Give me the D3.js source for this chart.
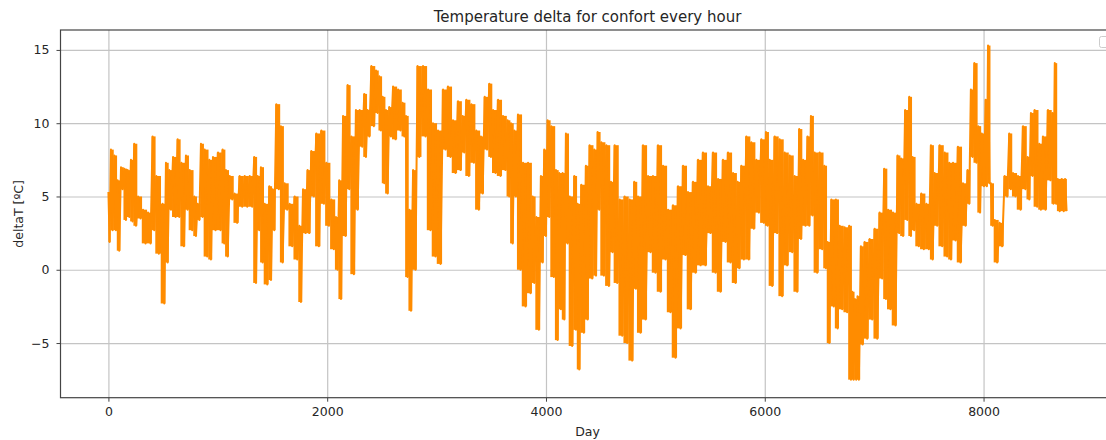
<!DOCTYPE html>
<html lang="en">

<head>
    <meta charset="UTF-8">
    <meta name="viewport" content="width=device-width, initial-scale=1.0">
    <title>Temperature delta for confort every hour</title>
    <script src="https://d3js.org/d3.v7.min.js"></script>

    <style>
        body {
            margin: 0;
            background: #fff;
        }

        svg text {
            font-family: "DejaVu Sans", sans-serif;
            fill: #262626;
        }

        .axis .domain {
            display: none;
        }

        .axis line {
            stroke: #444;
        }

        .axis text {
            font-size: 12.5px;
        }

        .gridlines line {
            stroke: #c4c4c4;
            stroke-width: 1.2px;
        }
    </style>
</head>

<body>
    <svg id="chart" width="1106" height="440"></svg>

    <script>
        // hour of the year and deltaT, in pairs: high then low of each short stretch
        const hours = [
            0, 11, 23, 38, 54, 69, 84, 99, 115, 130, 145, 160, 176, 191, 206, 221, 236, 252, 271, 294, 316, 339, 362, 385, 404, 419, 438, 461, 495, 511, 526, 541, 556, 572, 591, 614, 633, 648, 667, 690, 709, 724, 743, 766, 785, 800, 815, 831, 846, 861, 880, 903, 922, 937, 956, 979, 1002, 1025, 1044, 1059, 1074, 1090, 1109, 1132, 1154, 1177, 1200, 1223, 1246, 1269, 1292, 1314, 1333, 1349, 1364, 1379,
            1394, 1410, 1429, 1452, 1471, 1486, 1501, 1516, 1535, 1558, 1577, 1592, 1611, 1634, 1657, 1680, 1703, 1726, 1745, 1760, 1779, 1802, 1821, 1836, 1855, 1878, 1901, 1924, 1947, 1970, 1992, 2015, 2038, 2061, 2080, 2095, 2110, 2126, 2145, 2168, 2187, 2202, 2221, 2244, 2263, 2278, 2297, 2320, 2339, 2354, 2369, 2385, 2404, 2427, 2446, 2461, 2476, 2491, 2507, 2522, 2537, 2552, 2567, 2583, 2602, 2625, 2648, 2670, 2689, 2705, 2720, 2735, 2750, 2766, 2785, 2807, 2826, 2842,
            2876, 2899, 2922, 2944, 2967, 2990, 3013, 3036, 3059, 3082, 3104, 3127, 3150, 3173, 3196, 3219, 3238, 3253, 3272, 3295, 3318, 3341, 3363, 3386, 3405, 3421, 3440, 3462, 3482, 3497, 3516, 3539, 3562, 3584, 3607, 3630, 3649, 3664, 3680, 3695, 3710, 3725, 3744, 3767, 3790, 3813, 3836, 3859, 3878, 3893, 3912, 3935, 3954, 3969, 3984, 3999, 4015, 4030, 4049, 4072, 4091, 4106, 4121, 4137, 4152, 4167, 4182, 4198, 4217, 4239, 4259, 4274, 4289, 4304,
            4323, 4346, 4365, 4380, 4399, 4422, 4441, 4457, 4472, 4487, 4506, 4529, 4552, 4575, 4594, 4609, 4628, 4651, 4674, 4697, 4719, 4742, 4765, 4788, 4807, 4822, 4841, 4864, 4887, 4910, 4933, 4956, 4978, 5001, 5024, 5047, 5070, 5093, 5116, 5138, 5161, 5184, 5207, 5230, 5253, 5275, 5298, 5321, 5344, 5367, 5390, 5413, 5435, 5458, 5481, 5504, 5527, 5550, 5573, 5595, 5618, 5641, 5664, 5687, 5710, 5733, 5752, 5767,
            5786, 5809, 5832, 5854, 5877, 5900, 5923, 5946, 5969, 5992, 6011, 6026, 6045, 6068, 6091, 6113, 6136, 6159, 6182, 6205, 6228, 6251, 6273, 6296, 6315, 6331, 6350, 6372, 6391, 6407, 6422, 6437, 6456, 6479, 6502, 6525, 6544, 6559, 6574, 6590, 6609, 6631, 6650, 6666, 6685, 6708, 6730, 6753, 6772, 6788, 6800, 6812, 6824, 6836, 6848, 6860, 6879, 6894, 6913, 6936, 6959, 6982, 7005, 7028, 7050, 7073, 7092, 7108, 7127, 7149, 7172, 7195, 7214, 7229,
            7246, 7264, 7283, 7303, 7321, 7336, 7351, 7366, 7386, 7408, 7431, 7454, 7477, 7500, 7519, 7534, 7553, 7576, 7599, 7622, 7645, 7667, 7686, 7702, 7721, 7744, 7766, 7789, 7812, 7835, 7854, 7869, 7884, 7900, 7916, 7935, 7951, 7967, 7984, 8004, 8019, 8030, 8041, 8054, 8067, 8083, 8102, 8124, 8147, 8170, 8193, 8216, 8235, 8250, 8269, 8292, 8315, 8338, 8361, 8383, 8402, 8418, 8433, 8448, 8467, 8490, 8509, 8524, 8543, 8566, 8589, 8612, 8629, 8639, 8651, 8663, 8678, 8696, 8715, 8733, 8745, 8759
        ];
        const deltaT = [
            5.3, 1.9, 8.2, 2.7, 7.8, 2.7, 6.1, 1.3, 7.0, 5.5, 6.9, 3.4, 6.8, 3.6, 7.5, 3.3, 8.6, 3.0, 5.0, 3.5, 4.1, 1.8, 3.9, 1.8, 9.1, 2.7, 6.4, 1.1, 4.5, -2.3, 7.3, 0.5, 6.8, 4.1, 7.7, 3.6, 8.9, 3.6, 7.3, 1.6, 7.8, 4.1, 6.8, 2.7, 5.0, 2.3, 4.5, 3.4, 8.6, 3.6, 8.2, 0.9, 7.5, 0.7, 7.7, 2.7, 8.0, 2.7, 8.2, 1.8, 6.8, 0.9, 6.4, 4.8, 5.2, 3.2, 6.4, 4.3, 6.4, 4.3, 6.4, 4.3, 7.7, -0.9, 6.4, 2.7,
            7.0, 0.5, 4.5, -1.0, 5.7, -0.7, 5.5, 2.7, 11.3, 5.5, 9.8, 0.5, 5.9, 4.1, 4.5, 1.6, 5.0, 0.7, 3.0, -2.2, 5.5, 2.5, 6.8, 2.5, 8.1, 5.0, 9.3, 1.6, 9.5, 4.5, 7.3, 3.0, 4.8, 1.4, 3.6, 0.0, 6.1, -2.0, 10.5, 2.3, 12.6, 5.5, 9.1, -0.3, 10.9, 4.1, 10.9, 8.4, 12.0, 7.7, 10.9, 9.1, 13.9, 9.8, 13.6, 10.7, 13.2, 9.5, 11.8, 5.9, 10.9, 5.2, 11.1, 9.1, 12.5, 8.9, 12.3, 9.5, 11.4, 9.1, 10.5, -0.5, 4.1, -2.8, 6.8, 0.0, 13.9, 7.7,
            13.9, 9.1, 12.3, 2.7, 10.0, 0.9, 9.5, 0.4, 12.3, 8.2, 12.5, 7.7, 10.2, 6.6, 11.5, 6.8, 10.5, 8.0, 11.6, 6.4, 11.3, 7.3, 9.5, 4.1, 9.1, 5.2, 11.8, 8.2, 12.7, 7.7, 10.9, 6.6, 11.6, 6.4, 10.5, 6.8, 10.2, 5.0, 10.0, 1.8, 9.5, 5.0, 10.6, 0.0, 7.3, -2.5, 7.3, -1.6, 5.0, -0.9, 3.6, -4.1, 6.4, 0.5, 8.2, 2.3, 10.2, 3.6, 9.8, -0.5, 6.8, -4.8, 6.6, -2.7, 6.6, -3.4, 9.3, 1.8, 5.0, -5.2, 6.4, -4.1, 4.5, -6.8,
            5.8, -4.3, 7.1, -3.4, 8.5, -0.6, 8.2, -0.4, 9.4, 4.1, 8.7, -0.4, 8.5, -1.1, 6.0, 1.2, 8.5, -0.9, 4.8, -4.5, 5.0, -5.0, 4.8, -6.2, 6.0, -1.3, 5.0, -4.3, 8.5, -3.4, 6.4, 1.2, 6.4, -0.2, 8.5, -1.5, 7.1, 0.7, 4.1, -2.9, 4.4, -6.0, 5.7, -4.0, 7.1, 1.0, 5.3, -2.7, 6.0, -0.2, 7.5, 0.3, 8.0, 0.3, 5.7, 2.5, 8.0, -0.2, 6.2, -1.5, 7.5, 1.9, 8.0, 0.5, 6.6, -0.9, 6.0, 0.1,
            7.1, 0.7, 9.1, 0.7, 8.7, 2.8, 7.5, 3.9, 8.9, 3.2, 9.4, 3.0, 7.5, -1.1, 9.1, 2.5, 8.9, -1.8, 8.0, 0.3, 7.8, 1.2, 6.4, -1.5, 9.6, 2.1, 7.5, 3.0, 9.1, 3.0, 10.5, 3.7, 8.0, -0.2, 8.0, 1.4, 7.1, 0.1, 1.9, -5.0, 4.8, -2.5, 4.8, -4.0, 3.0, -2.7, 2.9, -2.9, 3.0, -7.5, -1.5, -7.5, -2.0, -7.5, -1.8, -7.5, 1.6, -5.1, 1.9, -4.7, 2.1, -3.4, 2.8, -4.7, 3.9, -0.6, 6.9, -2.0, 4.1, -2.7, 3.9, -3.8, 7.8, 2.5,
            7.6, 2.3, 10.9, 3.4, 11.8, 2.3, 7.7, 2.7, 4.5, 1.6, 5.2, 1.4, 4.5, 1.4, 8.5, 0.7, 6.6, 3.0, 8.5, 1.6, 8.0, 0.9, 7.3, 0.7, 7.3, 2.0, 8.4, 0.5, 5.9, 3.0, 6.8, 4.5, 12.3, 7.7, 14.1, 7.3, 9.8, 3.9, 9.3, 5.7, 11.6, 5.7, 15.3, 5.9, 5.9, 3.0, 3.4, 0.5, 3.2, 1.6, 6.4, 5.0, 9.3, 5.5, 6.6, 5.0, 6.4, 4.1, 9.8, 5.5, 7.7, 4.8, 10.7, 6.4, 10.9, 4.3, 8.6, 4.1, 9.1, 4.1, 10.9, 6.1, 10.7, 4.5, 14.1, 4.5, 6.2, 4.0, 6.2, 4.0, 6.2, 4.0
        ];
        const xTicks = [0, 2000, 4000, 6000, 8000];
        const yTicks = [-5, 0, 5, 10, 15];
        const xDomain = [-438, 9197];
        const yDomain = [-8.73, 16.36];

        const svg = d3.select('#chart');
        // axes box, the right edge falls just outside the picture
        const box = { left: 60.5, top: 30, right: 1114.5, bottom: 397.7 };
        const boxWidth = box.right - box.left;
        const boxHeight = box.bottom - box.top;

        const xScale = d3.scaleLinear().domain(xDomain).range([0, boxWidth]);
        const yScale = d3.scaleLinear().domain(yDomain).range([boxHeight, 0]);

        const area = svg.append('g').attr('transform', `translate(${box.left},${box.top})`);

        // gridlines
        area.append('g')
            .attr('class', 'gridlines')
            .call(d3.axisBottom(xScale).tickValues(xTicks).tickSize(-boxHeight).tickFormat(''))
            .attr('transform', `translate(0,${boxHeight})`);
        area.append('g')
            .attr('class', 'gridlines')
            .call(d3.axisLeft(yScale).tickValues(yTicks).tickSize(-boxWidth).tickFormat(''));
        area.selectAll('.gridlines .domain').remove();

        const n = Math.min(hours.length, deltaT.length);
        const orange = '#ff8c00';

        // hourly swings are far denser than a pixel, so every high/low stretch reads as a solid block
        // reaching halfway to its neighbours
        const stretches = d3.range(Math.floor(n / 2)).map(k => {
            const a = 2 * k, b = 2 * k + 1;
            const from = a > 0 ? (hours[a - 1] + hours[a]) / 2 : hours[a];
            const to = b < n - 1 ? (hours[b] + hours[b + 1]) / 2 : hours[b];
            return { from, to, hi: Math.max(deltaT[a], deltaT[b]), lo: Math.min(deltaT[a], deltaT[b]) };
        });
        area.selectAll('rect.swing')
            .data(stretches)
            .join('rect')
            .attr('class', 'swing')
            .attr('fill', orange)
            .attr('x', d => xScale(d.from))
            .attr('width', d => xScale(d.to) - xScale(d.from) + 0.3)
            .attr('y', d => yScale(d.hi))
            .attr('height', d => yScale(d.lo) - yScale(d.hi));

        // the series
        const line = d3.line()
            .x(i => xScale(hours[i]))
            .y(i => yScale(deltaT[i]));

        area.append('path')
            .datum(d3.range(n))
            .attr('fill', 'none')
            .attr('stroke', orange)
            .attr('stroke-width', 2)
            .attr('stroke-linejoin', 'round')
            .attr('d', line);

        // frame
        area.append('rect')
            .attr('width', boxWidth)
            .attr('height', boxHeight)
            .attr('fill', 'none')
            .attr('stroke', '#444')
            .attr('stroke-width', 1.2);

        // axes
        area.append('g')
            .attr('class', 'x axis')
            .attr('transform', `translate(0,${boxHeight})`)
            .call(d3.axisBottom(xScale).tickValues(xTicks).tickSize(4).tickPadding(5).tickFormat(d3.format('d')));
        area.append('g')
            .attr('class', 'y axis')
            .call(d3.axisLeft(yScale).tickValues(yTicks).tickSize(4).tickPadding(7).tickFormat(d3.format('d')));

        // empty legend box in the top right corner
        area.append('rect')
            .attr('x', boxWidth - 15)
            .attr('y', 6.5)
            .attr('width', 12)
            .attr('height', 11)
            .attr('rx', 2)
            .attr('fill', '#fff')
            .attr('fill-opacity', 0.8)
            .attr('stroke', '#cccccc');

        // title and labels
        svg.append('text')
            .attr('x', box.left + boxWidth / 2)
            .attr('y', 22)
            .attr('text-anchor', 'middle')
            .style('font-size', '15px')
            .text('Temperature delta for confort every hour');

        svg.append('text')
            .attr('x', box.left + boxWidth / 2)
            .attr('y', 436)
            .attr('text-anchor', 'middle')
            .style('font-size', '12.5px')
            .text('Day');

        svg.append('text')
            .attr('transform', `translate(23,${box.top + boxHeight / 2}) rotate(-90)`)
            .attr('text-anchor', 'middle')
            .style('font-size', '12.5px')
            .text('deltaT [ºC]');
    </script>
</body>

</html>
